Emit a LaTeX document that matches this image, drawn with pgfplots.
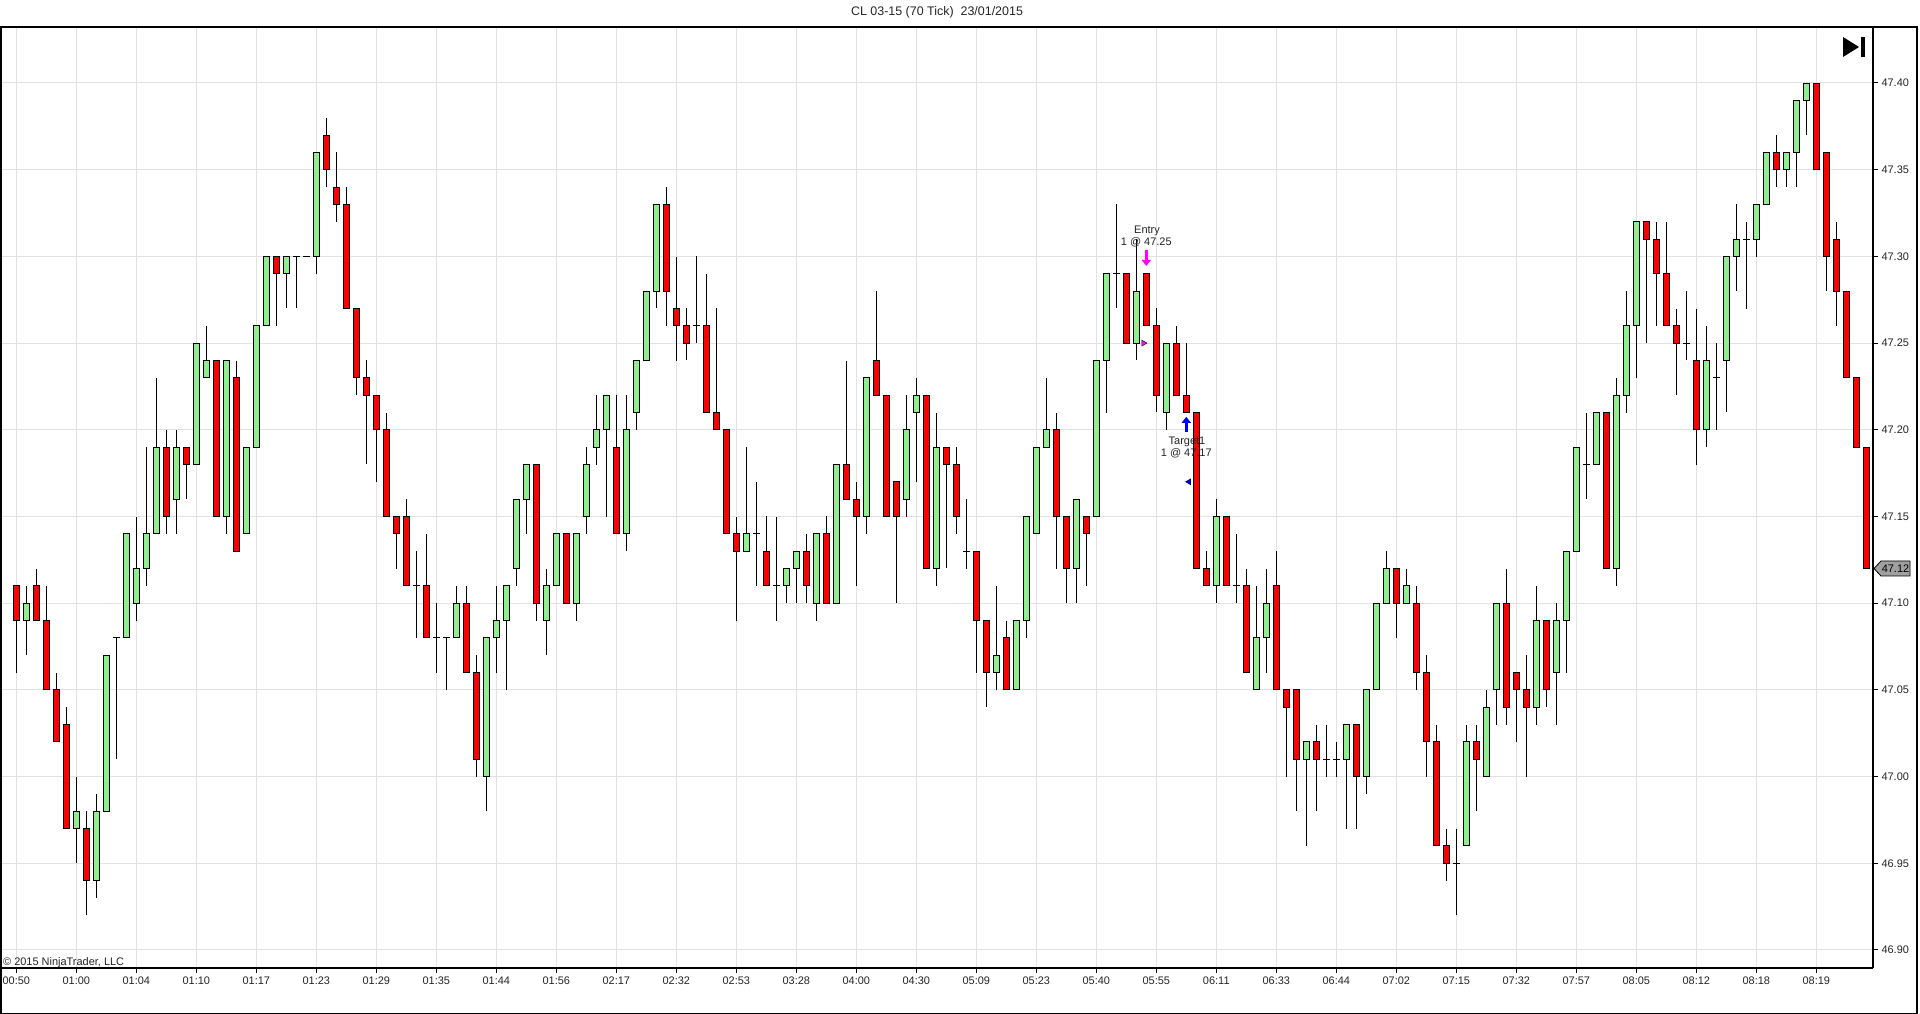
\documentclass[border=0pt]{standalone}
\usepackage{fontspec}
\setmainfont{Liberation Sans}
\usepackage{pgfplots}
\usepackage{pgfplotstable}
\pgfplotsset{compat=1.18}
\usetikzlibrary{arrows.meta}
\definecolor{upgreen}{RGB}{144,238,144}
\definecolor{downred}{RGB}{255,0,0}
\definecolor{gridgray}{RGB}{226,226,226}
\definecolor{taggray}{RGB}{160,160,160}
\definecolor{entrymag}{RGB}{255,0,255}
\definecolor{targetblue}{RGB}{0,0,255}
\pgfdeclareplotmark{nomark}{}

\pgfplotstableread{
k o h l c
0 47.11 47.11 47.06 47.09
1 47.09 47.11 47.07 47.10
2 47.11 47.12 47.09 47.09
3 47.09 47.11 47.05 47.05
4 47.05 47.06 47.02 47.02
5 47.03 47.04 46.97 46.97
6 46.97 47.00 46.95 46.98
7 46.97 46.98 46.92 46.94
8 46.94 46.99 46.93 46.98
9 46.98 47.07 46.98 47.07
10 47.08 47.08 47.01 47.08
11 47.08 47.14 47.08 47.14
12 47.10 47.15 47.09 47.12
13 47.12 47.19 47.11 47.14
14 47.14 47.23 47.14 47.19
15 47.19 47.20 47.14 47.15
16 47.16 47.20 47.14 47.19
17 47.19 47.19 47.16 47.18
18 47.18 47.25 47.18 47.25
19 47.23 47.26 47.23 47.24
20 47.24 47.24 47.15 47.15
21 47.15 47.24 47.14 47.24
22 47.23 47.24 47.13 47.13
23 47.14 47.19 47.14 47.19
24 47.19 47.26 47.19 47.26
25 47.26 47.30 47.26 47.30
26 47.30 47.30 47.26 47.29
27 47.29 47.30 47.27 47.30
28 47.30 47.30 47.27 47.30
29 47.30 47.30 47.30 47.30
30 47.30 47.36 47.29 47.36
31 47.37 47.38 47.34 47.35
32 47.34 47.36 47.32 47.33
33 47.33 47.34 47.27 47.27
34 47.27 47.27 47.22 47.23
35 47.23 47.24 47.18 47.22
36 47.22 47.22 47.17 47.20
37 47.20 47.21 47.15 47.15
38 47.15 47.15 47.12 47.14
39 47.15 47.16 47.11 47.11
40 47.11 47.13 47.08 47.11
41 47.11 47.14 47.08 47.08
42 47.08 47.10 47.06 47.08
43 47.08 47.08 47.05 47.08
44 47.08 47.11 47.08 47.10
45 47.10 47.11 47.06 47.06
46 47.06 47.07 47.00 47.01
47 47.00 47.08 46.98 47.08
48 47.08 47.11 47.06 47.09
49 47.09 47.11 47.05 47.11
50 47.12 47.16 47.11 47.16
51 47.16 47.18 47.14 47.18
52 47.18 47.18 47.09 47.10
53 47.09 47.12 47.07 47.11
54 47.11 47.14 47.11 47.14
55 47.14 47.14 47.10 47.10
56 47.10 47.14 47.09 47.14
57 47.15 47.19 47.14 47.18
58 47.19 47.22 47.18 47.20
59 47.20 47.22 47.15 47.22
60 47.19 47.22 47.14 47.14
61 47.14 47.22 47.13 47.20
62 47.21 47.24 47.20 47.24
63 47.24 47.28 47.24 47.28
64 47.28 47.33 47.27 47.33
65 47.33 47.34 47.26 47.28
66 47.27 47.30 47.24 47.26
67 47.26 47.27 47.24 47.25
68 47.26 47.30 47.25 47.26
69 47.26 47.29 47.21 47.21
70 47.21 47.27 47.20 47.20
71 47.20 47.20 47.14 47.14
72 47.14 47.15 47.09 47.13
73 47.13 47.19 47.13 47.14
74 47.14 47.17 47.11 47.14
75 47.13 47.15 47.11 47.11
76 47.11 47.15 47.09 47.11
77 47.11 47.12 47.10 47.12
78 47.12 47.13 47.10 47.13
79 47.13 47.14 47.10 47.11
80 47.10 47.14 47.09 47.14
81 47.14 47.15 47.10 47.10
82 47.10 47.18 47.10 47.18
83 47.18 47.24 47.16 47.16
84 47.16 47.17 47.11 47.15
85 47.15 47.23 47.14 47.23
86 47.24 47.28 47.22 47.22
87 47.22 47.22 47.15 47.15
88 47.17 47.17 47.10 47.15
89 47.16 47.22 47.15 47.20
90 47.21 47.23 47.17 47.22
91 47.22 47.22 47.12 47.12
92 47.12 47.21 47.11 47.19
93 47.19 47.19 47.12 47.18
94 47.18 47.19 47.14 47.15
95 47.13 47.16 47.12 47.13
96 47.13 47.13 47.06 47.09
97 47.09 47.09 47.04 47.06
98 47.06 47.11 47.05 47.07
99 47.08 47.09 47.05 47.05
100 47.05 47.09 47.05 47.09
101 47.09 47.15 47.08 47.15
102 47.14 47.19 47.14 47.19
103 47.19 47.23 47.19 47.20
104 47.20 47.21 47.12 47.15
105 47.15 47.15 47.10 47.12
106 47.12 47.16 47.10 47.16
107 47.15 47.15 47.11 47.14
108 47.15 47.24 47.15 47.24
109 47.24 47.29 47.21 47.29
110 47.29 47.33 47.27 47.29
111 47.29 47.29 47.25 47.25
112 47.25 47.31 47.24 47.28
113 47.29 47.29 47.26 47.26
114 47.26 47.27 47.21 47.22
115 47.21 47.25 47.20 47.25
116 47.25 47.26 47.22 47.22
117 47.22 47.25 47.21 47.21
118 47.21 47.21 47.12 47.12
119 47.12 47.13 47.11 47.11
120 47.11 47.16 47.10 47.15
121 47.15 47.15 47.11 47.11
122 47.11 47.14 47.10 47.11
123 47.11 47.12 47.06 47.06
124 47.05 47.11 47.05 47.08
125 47.08 47.12 47.06 47.10
126 47.11 47.13 47.05 47.05
127 47.05 47.05 47.00 47.04
128 47.05 47.05 46.98 47.01
129 47.01 47.02 46.96 47.02
130 47.02 47.03 46.98 47.01
131 47.01 47.03 47.00 47.01
132 47.01 47.02 47.00 47.01
133 47.01 47.03 46.97 47.03
134 47.03 47.03 46.97 47.00
135 47.00 47.05 46.99 47.05
136 47.05 47.10 47.05 47.10
137 47.10 47.13 47.10 47.12
138 47.12 47.12 47.08 47.10
139 47.10 47.12 47.10 47.11
140 47.10 47.11 47.05 47.06
141 47.06 47.07 47.00 47.02
142 47.02 47.03 46.96 46.96
143 46.96 46.97 46.94 46.95
144 46.95 46.97 46.92 46.95
145 46.96 47.03 46.96 47.02
146 47.02 47.03 46.98 47.01
147 47.00 47.05 47.00 47.04
148 47.05 47.10 47.03 47.10
149 47.10 47.12 47.03 47.04
150 47.06 47.06 47.02 47.05
151 47.05 47.07 47.00 47.04
152 47.04 47.11 47.03 47.09
153 47.09 47.09 47.04 47.05
154 47.06 47.10 47.03 47.09
155 47.09 47.13 47.06 47.13
156 47.13 47.19 47.13 47.19
157 47.18 47.21 47.16 47.18
158 47.18 47.21 47.18 47.21
159 47.21 47.21 47.12 47.12
160 47.12 47.23 47.11 47.22
161 47.22 47.28 47.21 47.26
162 47.26 47.32 47.23 47.32
163 47.32 47.32 47.25 47.31
164 47.31 47.32 47.26 47.29
165 47.29 47.32 47.26 47.26
166 47.26 47.27 47.22 47.25
167 47.25 47.28 47.24 47.25
168 47.24 47.27 47.18 47.20
169 47.20 47.26 47.19 47.24
170 47.23 47.25 47.20 47.23
171 47.24 47.30 47.21 47.30
172 47.30 47.33 47.28 47.31
173 47.31 47.32 47.27 47.31
174 47.31 47.33 47.30 47.33
175 47.33 47.36 47.33 47.36
176 47.36 47.37 47.34 47.35
177 47.35 47.36 47.34 47.36
178 47.36 47.39 47.34 47.39
179 47.39 47.40 47.37 47.40
180 47.40 47.40 47.35 47.35
181 47.36 47.36 47.28 47.30
182 47.31 47.32 47.26 47.28
183 47.28 47.28 47.23 47.23
184 47.23 47.23 47.19 47.19
185 47.19 47.19 47.12 47.12
}\candles

\pgfplotsset{
  candlelayer/.style 2 args={only marks, mark=nomark, forget plot,
    error bars/.cd, y dir=both, y explicit, error mark=none,
    error bar style={line width=#1, draw=#2, line cap=butt}},
  edgemarks/.style={only marks, mark=-, mark size=3.5bp, forget plot,
    mark options={line width=0.9bp, black}}
}

\begin{document}
\begin{tikzpicture}
\useasboundingbox (0,0) rectangle (1920bp,1014bp);
\fill[white] (0,0) rectangle (1920bp,1014bp);
\begin{axis}[
  at={(1bp,46bp)}, anchor=south west,
  scale only axis, width=1872bp, height=941bp,
  xmin=-1.53, xmax=185.67, ymin=46.8896, ymax=47.4323,
  axis x line*=bottom, axis y line*=right,
  axis line style={black, line width=1.3bp},
  tick align=outside, major tick length=5bp,
  tick style={black, line width=1bp},
  xtick={0,6,...,180},
  xticklabels={00:50,01:00,01:04,01:10,01:17,01:23,01:29,01:35,01:44,01:56,02:17,02:32,02:53,03:28,04:00,04:30,05:09,05:23,05:40,05:55,06:11,06:33,06:44,07:02,07:15,07:32,07:57,08:05,08:12,08:18,08:19},
  ytick={46.90,46.95,47.00,47.05,47.10,47.15,47.20,47.25,47.30,47.35,47.40},
  scaled y ticks=false,
  /pgf/number format/assume math mode=true,
  yticklabel style={/pgf/number format/fixed, /pgf/number format/fixed zerofill, /pgf/number format/precision=2},
  ticklabel style={font=\fontsize{11}{13}\selectfont, text=black!85},
  grid=major, major grid style={line width=1bp, gridgray},
  clip=true,
]
% wicks
\addplot[candlelayer={1.3bp}{black}] table[x=k, y expr={(\thisrow{h}+\thisrow{l})/2}, y error expr={(\thisrow{h}-\thisrow{l})/2}] {\candles};
% body outline (sides)
\addplot[candlelayer={7bp}{black}] table[x=k, y expr={(\thisrow{o}+\thisrow{c})/2}, y error expr={abs(\thisrow{c}-\thisrow{o})/2}] {\candles};
% up bodies
\addplot[candlelayer={5bp}{upgreen}] table[x=k, y expr={(\thisrow{o}+\thisrow{c})/2}, y error expr={max(\thisrow{c}-\thisrow{o},0)/2}] {\candles};
% down bodies
\addplot[candlelayer={5bp}{downred}] table[x=k, y expr={(\thisrow{o}+\thisrow{c})/2}, y error expr={max(\thisrow{o}-\thisrow{c},0)/2}] {\candles};
% open and close edges
\addplot[edgemarks] table[x=k, y=o] {\candles};
\addplot[edgemarks] table[x=k, y=c] {\candles};
% entry / target markers
\addplot[entrymag, line width=3.5bp, forget plot, -{Triangle[width=9bp,length=6bp]}] coordinates {(113,47.3035) (113,47.2945)};
\addplot[only marks, forget plot, mark=triangle*, mark size=3.5bp, mark options={rotate=-90, fill=entrymag, draw=none}] coordinates {(112.72,47.25)};
\addplot[targetblue, line width=3.5bp, forget plot, -{Triangle[width=9bp,length=6bp]}] coordinates {(117,47.1988) (117,47.2075)};
\addplot[only marks, forget plot, mark=triangle*, mark size=3.5bp, mark options={rotate=90, fill=targetblue, draw=none}] coordinates {(117.27,47.17)};
\node[font=\fontsize{11}{13}\selectfont, text=black!85] at (axis cs:113.07,47.3146) {Entry};
\node[font=\fontsize{11}{13}\selectfont, text=black!85] at (axis cs:113.0,47.3083) {1 @ 47.25};
\node[font=\fontsize{11}{13}\selectfont, text=black!85] at (axis cs:117.07,47.1930) {Target1};
\node[font=\fontsize{11}{13}\selectfont, text=black!85] at (axis cs:117.0,47.1862) {1 @ 47.17};
\end{axis}
% outer frame
\draw[black, line width=1.5bp] (0.75bp,0.75bp) rectangle (1917bp,987bp);
% title
\node[font=\fontsize{12.5}{15}\selectfont, text=black!85] at (937bp,1002bp) {CL 03-15 (70 Tick)\ \ 23/01/2015};
% copyright
\node[font=\fontsize{11}{13}\selectfont, text=black!85, anchor=base west, inner sep=0pt] at (3bp,48bp) {© 2015 NinjaTrader, LLC};
% go-to-end icon
\fill[black] (1843bp,977bp) -- (1843bp,957bp) -- (1859bp,967bp) -- cycle;
\fill[black] (1861bp,957bp) rectangle (1865bp,977bp);
% last price tag
\filldraw[fill=taggray, draw=black, line width=0.8bp] (1874bp,445.5bp) -- (1881bp,453bp) -- (1910bp,453bp) -- (1910bp,438bp) -- (1881bp,438bp) -- cycle;
\node[font=\fontsize{11}{13}\selectfont, text=black] at (1895.5bp,445.5bp) {47.12};
\end{tikzpicture}
\end{document}
